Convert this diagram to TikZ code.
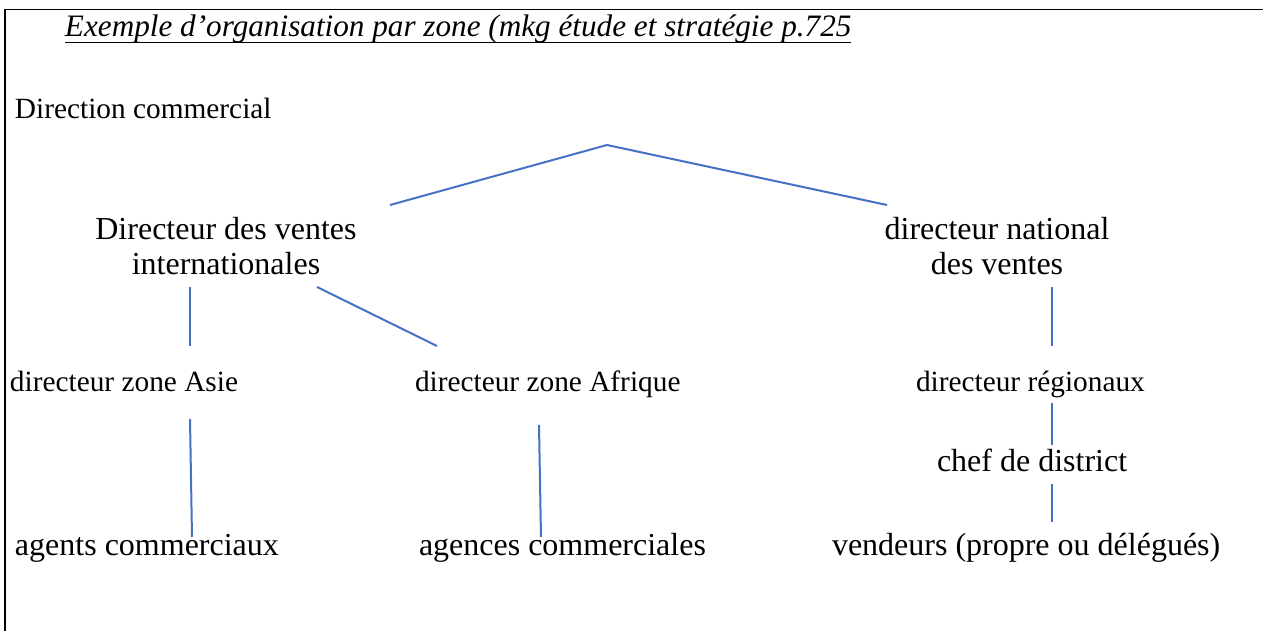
\documentclass[tikz,border=0pt]{standalone}
\usepackage{fontspec}
\setmainfont{Liberation Serif}
\begin{document}
\begin{tikzpicture}[x=0.375pt,y=-0.375pt,
  lbl/.style={inner sep=0pt,outer sep=0pt,anchor=base west,font=\fontsize{12}{12.94}\selectfont},
  lblsm/.style={inner sep=0pt,outer sep=0pt,anchor=base west,font=\fontsize{11}{12}\selectfont},
  lbltwo/.style={inner sep=0pt,outer sep=0pt,anchor=base,font=\fontsize{12}{12.94}\selectfont},
  link/.style={draw=linkblue,line width=0.75pt},
  frame/.style={draw=black,line width=0.6pt}]
\definecolor{linkblue}{HTML}{4472C4}
\useasboundingbox (0,0) rectangle (1263,631);
\draw[frame] (5,631) -- (5,9.5) -- (1263,9.5);
% texts
\node[lbl,font=\fontsize{11.7}{12.6}\selectfont\itshape] (title) at (65,36.5) {Exemple d’organisation par zone (mkg étude et stratégie p.725};
\draw[line width=0.55pt] ([yshift=-2.3pt]title.base west) -- ([yshift=-2.3pt]title.base east);
\node[lblsm] (dc) at (15,119) {Direction commercial};
\node[lbltwo] (dvi) at (226,240) {\begin{tabular}[t]{@{}c@{}}Directeur des ventes\\internationales\end{tabular}};
\node[lbltwo] (dnv) at (997,240) {\begin{tabular}[t]{@{}c@{}}directeur national\\des ventes\end{tabular}};
\node[lblsm] (asie) at (10,392) {directeur zone Asie};
\node[lblsm] (afr) at (415,392) {directeur zone Afrique};
\node[lblsm] (reg) at (916,392) {directeur régionaux};
\node[lbl] (chef) at (937,471.5) {chef de district};
\node[lbl] (agents) at (15,555.5) {agents commerciaux};
\node[lbl] (agences) at (419,555.5) {agences commerciales};
\node[lbl] (vend) at (832,555.5) {vendeurs (propre ou délégués)};
% connector end points
\coordinate (apex) at (607,145);
\coordinate (vL) at (390,205);
\coordinate (vR) at (887,205);
\coordinate (a1) at (190,287);
\coordinate (a2) at (190,346);
\coordinate (b1) at (317,287);
\coordinate (b2) at (437,346);
\coordinate (c1) at (1052,287);
\coordinate (c2) at (1052,346);
\coordinate (d1) at (1052,403);
\coordinate (d2) at (1052,445);
\coordinate (e1) at (1052,484);
\coordinate (e2) at (1052,522);
\coordinate (f1) at (190,419);
\coordinate (f2) at (192,537);
\coordinate (g1) at (539,425);
\coordinate (g2) at (541,537);
% connectors
\draw[link] (vL) -- (apex) -- (vR);
\draw[link] (a1) -- (a2);
\draw[link] (b1) -- (b2);
\draw[link] (c1) -- (c2);
\draw[link] (d1) -- (d2);
\draw[link] (e1) -- (e2);
\draw[link] (f1) -- (f2);
\draw[link] (g1) -- (g2);
\end{tikzpicture}
\end{document}
